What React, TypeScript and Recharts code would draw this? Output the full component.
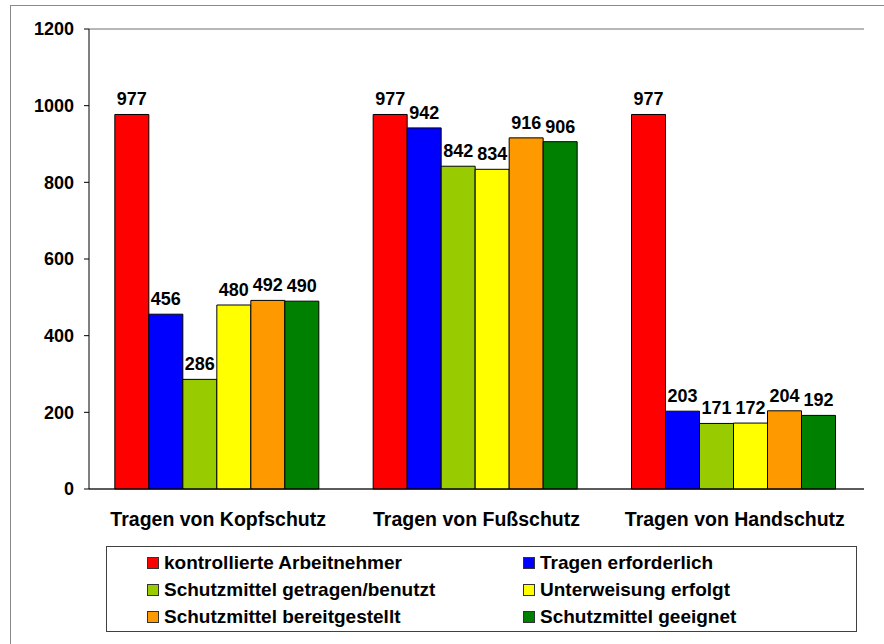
import React from "react";
import { BarChart, Bar, XAxis, YAxis, CartesianGrid, LabelList, Legend } from "recharts";

const categories = ["Tragen von Kopfschutz", "Tragen von Fußschutz", "Tragen von Handschutz"];
const kontrollierteArbeitnehmer = [977, 977, 977];
const tragenErforderlich = [456, 942, 203];
const schutzmittelGetragen = [286, 842, 171];
const unterweisungErfolgt = [480, 834, 172];
const schutzmittelBereitgestellt = [492, 916, 204];
const schutzmittelGeeignet = [490, 906, 192];
const yTicks = [0, 200, 400, 600, 800, 1000, 1200];
const boundaryTicks = [0, 1, 2, 3, 4, 5, 6];

const seriesNames = [
  "kontrollierte Arbeitnehmer",
  "Tragen erforderlich",
  "Schutzmittel getragen/benutzt",
  "Unterweisung erfolgt",
  "Schutzmittel bereitgestellt",
  "Schutzmittel geeignet",
];
const seriesValues = [
  kontrollierteArbeitnehmer,
  tragenErforderlich,
  schutzmittelGetragen,
  unterweisungErfolgt,
  schutzmittelBereitgestellt,
  schutzmittelGeeignet,
];
const seriesColors = ["#FF0000", "#0000FF", "#99CC00", "#FFFF00", "#FF9900", "#008000"];
const keys = ["s0", "s1", "s2", "s3", "s4", "s5"];

const data = categories.map((c, i) => {
  const row: any = { name: c };
  seriesValues.forEach((vals, s) => {
    row[keys[s]] = vals[i];
  });
  return row;
});

const FONT = "'Liberation Sans', Arial, sans-serif";

const CatTick = (props: any) => {
  const { x, y, payload } = props;
  return (
    <text x={x} y={y + 37} textAnchor="middle" fontFamily={FONT} fontWeight="bold" fontSize={19.5} fill="#000">
      {payload.value}
    </text>
  );
};

const legendLayout = [
  { col: 0, row: 0 },
  { col: 1, row: 0 },
  { col: 0, row: 1 },
  { col: 1, row: 1 },
  { col: 0, row: 2 },
  { col: 1, row: 2 },
];

const LegendBox = () => (
  <div
    style={{
      position: "relative",
      width: 751,
      height: 86,
      boxSizing: "border-box",
      border: "1px solid #404040",
      background: "#fff",
      fontFamily: FONT,
    }}
  >
    {seriesNames.map((n, i) => {
      const p = legendLayout[i];
      const left = p.col === 0 ? 40 : 416;
      const top = 16.5 + p.row * 27.2 - 13.5 - 1;
      return (
        <div
          key={n}
          style={{
            position: "absolute",
            left,
            top,
            height: 27,
            display: "flex",
            alignItems: "center",
            whiteSpace: "nowrap",
          }}
        >
          <span
            style={{
              display: "inline-block",
              width: 12,
              height: 12,
              boxSizing: "border-box",
              border: "1px solid #333",
              background: seriesColors[i],
              marginRight: 5,
            }}
          />
          <span style={{ fontWeight: "bold", fontSize: 19, color: "#000" }}>{n}</span>
        </div>
      );
    })}
  </div>
);

export default function App() {
  return (
    <div style={{ position: "absolute", left: 0, top: 0, width: 884, height: 644, background: "#fff" }}>
      <div
        style={{
          position: "absolute",
          left: 10,
          top: 5,
          width: 900,
          height: 700,
          borderLeft: "1px solid #8a8a8a",
          borderTop: "1px solid #8a8a8a",
        }}
      />
      <BarChart
        width={884}
        height={644}
        data={data}
        margin={{ top: 29, right: 20, bottom: 115, left: 0 }}
        barCategoryGap="10%"
        barGap={0}
      >
        <CartesianGrid vertical={false} stroke="#6e6e6e" strokeWidth={1} />
        <XAxis
          xAxisId="ticks"
          type="number"
          domain={[0, 6]}
          ticks={boundaryTicks}
          height={0}
          tick={false}
          tickSize={5}
          axisLine={false}
          tickLine={{ stroke: "#000" }}
          allowDataOverflow
        />
        <XAxis
          xAxisId="cat"
          dataKey="name"
          height={40}
          tickLine={false}
          tickSize={0}
          tickMargin={0}
          axisLine={{ stroke: "#000" }}
          tick={<CatTick />}
          interval={0}
        />
        <YAxis
          yAxisId="left"
          width={89}
          domain={[0, 1200]}
          ticks={yTicks}
          tickSize={5}
          tickMargin={10}
          axisLine={{ stroke: "#000" }}
          tickLine={{ stroke: "#000" }}
          tick={{ fontFamily: FONT, fontWeight: "bold", fontSize: 18, fill: "#000" }}
          interval={0}
        />
        <YAxis
          yAxisId="right"
          orientation="right"
          width={0}
          domain={[0, 1200]}
          tick={false}
          tickLine={false}
          axisLine={{ stroke: "#000" }}
        />
        <Legend
          layout="horizontal"
          verticalAlign="middle"
          align="center"
          wrapperStyle={{ left: 106, top: 546, width: 751, height: 86 }}
          content={() => <LegendBox />}
        />
        {keys.map((k, i) => (
          <Bar
            key={k}
            dataKey={k}
            name={seriesNames[i]}
            xAxisId="cat"
            yAxisId="left"
            fill={seriesColors[i]}
            stroke="#000"
            strokeWidth={1}
            isAnimationActive={false}
          >
            <LabelList
              dataKey={k}
              position="top"
              offset={9}
              fontFamily={FONT}
              fontWeight="bold"
              fontSize={18}
              fill="#000"
            />
          </Bar>
        ))}
      </BarChart>
    </div>
  );
}
